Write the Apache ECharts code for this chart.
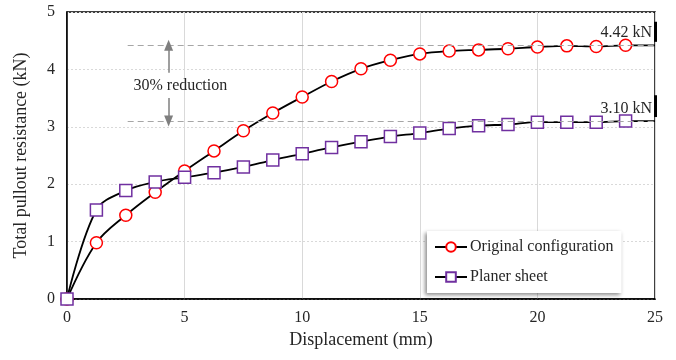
<!DOCTYPE html>
<html>
<head>
<meta charset="utf-8">
<script src="https://cdn.jsdelivr.net/npm/echarts@6/dist/echarts.min.js"></script>
<style>
  html, body { margin: 0; padding: 0; background: #fff; }
  #chart { width: 676px; height: 360px; }
</style>
</head>
<body>
<div id="chart"></div>
<script>
// Displacement at which each test reading was taken (mm)
const displacement = [0, 1.25, 2.5, 3.75, 5, 6.25, 7.5, 8.75, 10, 11.25,
  12.5, 13.75, 15, 16.25, 17.5, 18.75, 20, 21.25, 22.5, 23.75];
// Total pullout resistance (kN)
const originalConfig = [0, 0.98, 1.46, 1.86, 2.23, 2.58, 2.93, 3.24, 3.52, 3.79,
  4.01, 4.16, 4.27, 4.32, 4.34, 4.36, 4.39, 4.41, 4.40, 4.42];
const planerSheet = [0, 1.55, 1.89, 2.04, 2.12, 2.20, 2.30, 2.42, 2.53, 2.64,
  2.74, 2.83, 2.89, 2.97, 3.02, 3.04, 3.08, 3.08, 3.08, 3.10];
// Plateau (peak) resistance of each configuration, kN
const peakOriginal = 4.42;
const peakPlaner = 3.10;
const endDisplacement = 25;
const seriesNames = ['Original configuration', 'Planer sheet'];
const xTicks = [0, 5, 10, 15, 20, 25];
const yTicks = [0, 1, 2, 3, 4, 5];

const FONT = '"Liberation Serif", "Times New Roman", serif';
const TEXT = '#262626';

function curve(values, peak) {
  const pts = values.map((v, i) => [displacement[i], v]);
  // the fitted curve carries on to the end of the axis without a marker
  pts.push({ value: [endDisplacement, peak], symbol: 'none' });
  return pts;
}

const peakLine = (v) => [
  { coord: [2.58, v], value: v },
  { coord: [endDisplacement, v], value: v }
];

const chart = echarts.init(document.getElementById('chart'), null, { renderer: 'canvas' });
chart.setOption({
  animation: false,
  textStyle: { fontFamily: FONT, color: TEXT },
  grid: {
    left: 67, right: 21, top: 12, bottom: 61,
    show: true, borderColor: '#000', borderWidth: 1.5
  },
  legend: {
    data: seriesNames,
    orient: 'vertical',
    left: 427, top: 231,
    padding: [8, 8, 8, 7],
    itemWidth: 32, itemHeight: 12, itemGap: 14,
    backgroundColor: '#fff',
    shadowColor: 'rgba(0,0,0,0.45)', shadowBlur: 4, shadowOffsetX: -2, shadowOffsetY: 2,
    textStyle: { fontFamily: FONT, fontSize: 16, color: TEXT, padding: [0, 0, 0, -2] }
  },
  xAxis: {
    type: 'value', min: xTicks[0], max: xTicks[xTicks.length - 1], interval: 5,
    name: 'Displacement (mm)', nameLocation: 'middle', nameGap: 25,
    nameTextStyle: { fontFamily: FONT, fontSize: 18, color: TEXT },
    axisLine: { show: true, lineStyle: { color: '#000', width: 1.5 } },
    axisTick: { show: false },
    axisLabel: { fontFamily: FONT, fontSize: 16, color: TEXT, margin: 11 },
    splitLine: { show: true, lineStyle: { color: '#d9d9d9', width: 1, type: 'solid' } }
  },
  yAxis: {
    type: 'value', min: yTicks[0], max: yTicks[yTicks.length - 1], interval: 1,
    name: 'Total pullout resistance (kN)', nameLocation: 'middle', nameGap: 37,
    nameTextStyle: { fontFamily: FONT, fontSize: 18, color: TEXT },
    axisLine: { show: true, lineStyle: { color: '#000', width: 1.5 } },
    axisTick: { show: false },
    axisLabel: { fontFamily: FONT, fontSize: 16, color: TEXT, margin: 12 },
    splitLine: { show: true, lineStyle: { color: '#d9d9d9', width: 1, type: [2, 2] } }
  },
  series: [
    // guide lines and labels for the two plateau values
    {
      name: 'peaks',
      type: 'line',
      data: [],
      silent: true,
      z: 1,
      markLine: {
        silent: true, symbol: 'none', animation: false,
        lineStyle: { color: '#a6a6a6', width: 1, type: [6, 4] },
        label: {
          show: true, position: 'insideEndTop', distance: [3, 4],
          fontFamily: FONT, fontSize: 16, color: TEXT,
          formatter: (p) => (typeof p.value === 'number' ? p.value.toFixed(2) + ' kN' : '')
        },
        data: [peakLine(peakOriginal), peakLine(peakPlaner)]
      }
    },
    // short heavy marks on the right frame beside each plateau label
    {
      name: 'edge',
      type: 'line',
      data: [],
      silent: true,
      z: 5,
      markLine: {
        silent: true, symbol: 'none', animation: false,
        lineStyle: { color: '#000', width: 3, type: 'solid' },
        label: { show: false },
        data: [
          [{ coord: [endDisplacement, 4.48] }, { coord: [endDisplacement, 4.83] }],
          [{ coord: [endDisplacement, 3.17] }, { coord: [endDisplacement, 3.55] }]
        ]
      }
    },
    // "30% reduction" arrows and text
    {
      name: 'reduction',
      type: 'line',
      data: [],
      silent: true,
      z: 2,
      markLine: {
        silent: true, animation: false,
        symbol: ['none', 'triangle'], symbolSize: [9, 11],
        lineStyle: { color: '#7f7f7f', width: 1.5, type: 'solid' },
        label: { show: false },
        data: [
          [{ coord: [4.32, 3.94] }, { coord: [4.32, peakOriginal] }],
          [{ coord: [4.32, 3.50] }, { coord: [4.32, peakPlaner] }]
        ]
      },
      markPoint: {
        silent: true, symbol: 'circle', symbolSize: 1,
        itemStyle: { color: 'rgba(0,0,0,0)' },
        label: {
          show: true, position: 'inside',
          fontFamily: FONT, fontSize: 16, color: TEXT,
          formatter: '30% reduction'
        },
        data: [{ coord: [4.82, 3.71] }]
      }
    },
    {
      name: seriesNames[0],
      type: 'line',
      data: curve(originalConfig, peakOriginal),
      smooth: 0.35,
      symbol: 'circle', symbolSize: 12,
      lineStyle: { color: '#000', width: 1.8, type: 'solid' },
      itemStyle: { color: '#fff', borderColor: '#ff0000', borderWidth: 1.5, borderType: 'solid' },
      z: 3
    },
    {
      name: seriesNames[1],
      type: 'line',
      data: curve(planerSheet, peakPlaner),
      smooth: 0.35,
      symbol: 'rect', symbolSize: 12,
      lineStyle: { color: '#000', width: 1.8, type: 'solid' },
      itemStyle: { color: '#fff', borderColor: '#7030a0', borderWidth: 1.5, borderType: 'solid' },
      z: 4
    }
  ]
});
</script>
</body>
</html>
